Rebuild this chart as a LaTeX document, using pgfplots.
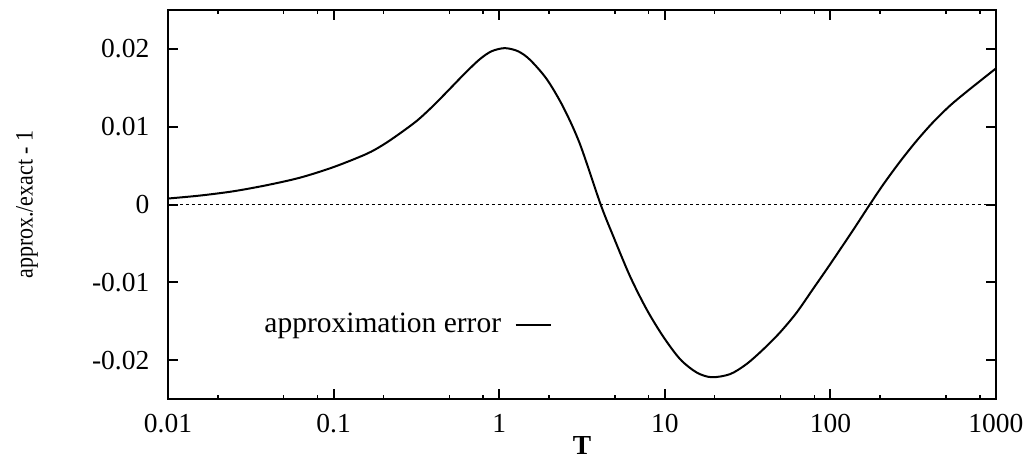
\documentclass[border=0pt]{standalone}
\usepackage{fontspec}
\setmainfont{Liberation Serif}
\usepackage{pgfplots}
\pgfplotsset{compat=1.18}
\begin{document}
\fontsize{11}{13}\selectfont
\begin{tikzpicture}
\begin{axis}[
  at={(0,0)}, anchor=south west,
  scale only axis, width=331.2pt, height=155.6pt,
  xmode=log, xmin=0.01, xmax=1000, ymin=-0.025, ymax=0.025,
  xtick={0.01,0.1,1,10,100,1000},
  xticklabels={0.01,0.1,1,10,100,1000},
  minor xtick={0.02,0.05,0.08,0.2,0.5,0.8,2,5,8,20,50,80,200,500,800},
  ytick={-0.02,-0.01,0,0.01,0.02},
  yticklabels={-0.02,-0.01,0,0.01,0.02},
  major tick length=4pt, minor tick length=1.6pt,
  axis line style={line width=0.8pt},
  every tick/.style={line width=0.8pt, black},
  every minor tick/.style={line width=0.6pt, black},
  tick label style={font=\fontsize{11}{13}\selectfont},
  xticklabel style={yshift=-2.4pt},
  yticklabel style={xshift=-3.6pt},
  xlabel={\textbf{T}},
  xlabel style={at={(axis description cs:0.5,0)}, anchor=center, yshift=-18.4pt, font=\fontsize{11}{13}\selectfont},
  ylabel={\scalebox{0.88}[1]{\fontsize{10}{12}\selectfont approx./exact - 1}},
  ylabel style={at={(axis description cs:-0.1703,0.5)}, anchor=center},
  legend plot pos=right,
  legend style={draw=none, fill=none, at={(axis description cs:0.473,0.19)}, anchor=east, font=\fontsize{11.8}{13}\selectfont},
  legend image code/.code={\path (0pt,0pt); \draw[#1] (3.4pt,0pt) -- (17.4pt,0pt);},
]
\addplot[black, line width=0.8pt, smooth, tension=0.5] coordinates {
(0.01,0.00077) (0.0156,0.00115) (0.0248,0.0017) (0.0394,0.00248) (0.0627,0.00345)
(0.0996,0.0048) (0.158,0.0065) (0.2,0.0077) (0.25,0.0091) (0.32,0.0108)
(0.4,0.0127) (0.5,0.0148) (0.63,0.0170) (0.766,0.0187) (0.9,0.0197) (1.08,0.0201)
(1.3,0.0197) (1.535,0.0186) (1.94,0.0161)
(2.44,0.0125) (3.07,0.0078) (4.1,0.0) (4.89,-0.0041) (6.16,-0.0092)
(7.78,-0.0135) (9.8,-0.0170) (12.4,-0.0199) (15.6,-0.0216) (19.2,-0.0222)
(24.8,-0.0218) (31.2,-0.0205) (39.4,-0.0186) (49.6,-0.01645) (62.5,-0.0139)
(78.9,-0.0108) (99.5,-0.0077) (137,-0.0033) (173,0.0) (209,0.0026)
(263,0.0055) (332,0.0082) (418,0.0106) (527,0.0127) (665,0.0145) (1000,0.0175)
};
\addlegendentry{approximation error}
\addplot[black, line width=0.6pt, dash pattern=on 1.2pt off 1.2pt, forget plot] coordinates {(0.01,0) (1000,0)};
\end{axis}
\pgfresetboundingbox
\path (-67.2pt,-23.2pt) rectangle (346pt,159.6pt);
\end{tikzpicture}
\end{document}
